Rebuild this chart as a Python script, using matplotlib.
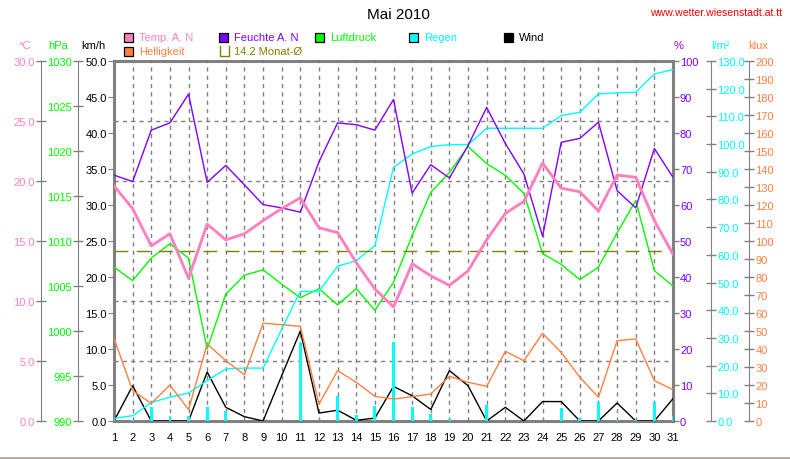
import numpy as np
import matplotlib.pyplot as plt
from matplotlib.patches import Rectangle
from matplotlib.lines import Line2D
from matplotlib.ticker import FixedLocator, StrMethodFormatter

plt.rcParams['font.family'] = ['Liberation Sans', 'DejaVu Sans']

# Werte Mai 2010
days = np.arange(1, 32)
temp = [19.6, 17.7, 14.6, 15.6, 11.9, 16.4, 15.1, 15.6, 16.7, 17.7, 18.6, 16.1, 15.7, 13.2, 11.0, 9.5,
        13.1, 12.1, 11.3, 12.5, 15.1, 17.3, 18.3, 21.5, 19.4, 19.1, 17.5, 20.5, 20.3, 16.7, 13.9]
feuchte = [68.3, 66.5, 80.8, 82.8, 90.8, 66.3, 71.0, 65.6, 60.1, 59.2, 58.0, 72.0, 82.8, 82.3, 80.8, 89.3,
           63.3, 71.2, 67.5, 76.5, 87.1, 77.1, 68.6, 51.3, 77.4, 78.5, 83.0, 64.0, 59.2, 75.7, 67.7]
luftdruck = [1007.1, 1005.6, 1008.1, 1009.7, 1008.1, 998.0, 1004.1, 1006.2, 1006.8, 1005.2, 1003.7,
             1004.7, 1002.9, 1004.7, 1002.3, 1005.4, 1010.6, 1015.4, 1017.6, 1020.5, 1018.6, 1017.3,
             1015.3, 1008.6, 1007.4, 1005.7, 1007.1, 1010.9, 1014.5, 1006.7, 1005.0]
regen_summe = [1.0, 1.9, 6.7, 8.6, 10.1, 14.6, 18.8, 19.1, 19.1, 33.2, 46.8, 46.8, 55.9, 57.9, 63.3, 91.6,
               96.4, 99.1, 99.8, 99.8, 105.7, 105.7, 105.7, 105.7, 110.3, 111.5, 118.1, 118.5, 118.7,
               125.3, 126.9]
regen_tag = [0.9, 0.5, 5.2, 1.9, 1.7, 5.2, 3.7, 0, 0, 0, 28.2, 0, 9.2, 2.3, 5.5, 28.6,
             4.9, 2.5, 0.7, 0, 5.9, 0, 0, 0, 4.7, 1.1, 6.7, 0.5, 0.3, 6.7, 1.9]
wind = [0, 4.9, 0, 0, 0, 6.8, 1.9, 0.6, 0, 6.3, 12.5, 1.1, 1.5, 0.1, 0.4, 4.8,
        3.5, 1.6, 7.0, 4.9, 0, 1.9, 0, 2.7, 2.7, 0, 0, 2.5, 0, 0, 3.1]
helligkeit = [45.9, 16.9, 9.8, 20.0, 6.3, 42.8, 33.5, 25.7, 54.3, 53.5, 52.6, 9.4, 28.0, 21.5, 13.7, 12.2,
              13.5, 15.0, 24.8, 21.5, 19.3, 38.7, 33.5, 48.7, 38.1, 24.3, 13.2, 44.6, 45.6, 22.4, 17.4]
monat_mittel = 14.2

PINK = '#FF80C0'
LILA = '#8000FF'
GRUEN = '#00FF00'
CYAN = '#00FFFF'
ORANGE = '#FF8040'
OLIV = '#808000'
GRAU = '#808080'

W, H = 790, 460
x0, x1, y0, y1 = 114, 673, 62, 422

fig = plt.figure(figsize=(W / 100, H / 100), dpi=100)
ax = fig.add_axes([x0 / W, 1 - y1 / H, (x1 - x0) / W, (y1 - y0) / H])


def fx(px):
    return px / W


def fy(py):
    return 1 - py / H


def extra_axis(side, xpix, lo, hi, step, fmt, color, direction='inout', spine=True):
    a = ax.twinx()
    for s in a.spines.values():
        s.set_visible(False)
    a.spines[side].set_visible(spine)
    a.spines[side].set_position(('axes', (xpix - x0) / (x1 - x0)))
    a.spines[side].set_color(GRAU)
    a.yaxis.set_ticks_position(side)
    a.yaxis.set_label_position(side)
    a.set_ylim(lo, hi)
    a.set_yticks(np.arange(lo, hi + step / 2, step))
    a.yaxis.set_major_formatter(StrMethodFormatter(fmt))
    a.tick_params(axis='y', color=GRAU, labelcolor=color, direction=direction,
                  length=7 if direction == 'inout' else 4, width=1, pad=1, labelsize=8)
    return a


# Hauptachse: km/h
ax.set_xlim(1, 31)
ax.set_ylim(0, 50)
ax.set_xticks(days)
ax.set_yticks(np.arange(0, 50.1, 5))
ax.yaxis.set_major_formatter(StrMethodFormatter('{x:.1f}'))
ax.yaxis.set_minor_locator(FixedLocator(np.linspace(0, 50, 7)))
ax.tick_params(axis='x', length=0, pad=8, labelsize=8)
ax.tick_params(axis='y', which='major', color=GRAU, length=4, pad=1, labelsize=8)
ax.tick_params(axis='y', which='minor', length=0)
ax.grid(axis='x', which='major', color=GRAU, ls=(0, (3, 3)), lw=1)
ax.grid(axis='y', which='minor', color=GRAU, ls=(0, (3, 3)), lw=1)
for s in ax.spines.values():
    s.set_color(GRAU)
    s.set_linewidth(2.2)

ax_hpa = extra_axis('left', 78, 990, 1030, 5, '{x:.0f}', GRUEN)
ax_reg = extra_axis('right', 711, 0, 130, 10, '{x:.1f}', CYAN)
ax_lux = extra_axis('right', 749, 0, 200, 10, '{x:.0f}', ORANGE)
ax_pro = extra_axis('right', 673, 0, 100, 10, '{x:.0f}', LILA, direction='out', spine=False)
ax_tmp = extra_axis('left', 41, 0, 30, 5, '{x:.1f}', PINK)

# Daten
ax_reg.bar(days, regen_tag, width=0.15, color=CYAN, zorder=2)
ax_reg.plot(days, regen_summe, color=CYAN, lw=1)
ax.plot(days, wind, color='black', lw=1, zorder=3)
ax_lux.plot(days, helligkeit, color=ORANGE, lw=1)
ax_hpa.plot(days, luftdruck, color=GRUEN, lw=1)
ax_pro.plot(days, feuchte, color=LILA, lw=1)
ax_tmp.axhline(monat_mittel, color=OLIV, lw=1, ls=(0, (10, 6)))
ax_tmp.plot(days, temp, color=PINK, lw=2.1)

# Titel
fig.text(fx(398), fy(15), 'Mai 2010', ha='center', va='center', fontsize=11)
fig.text(fx(782), fy(13), 'www.wetter.wiesenstadt.at.tt', ha='right', va='center',
         fontsize=7.6, color='red')

# Einheiten
for xp, txt, col in [(25, '°C', PINK), (58, 'hPa', GRUEN), (93, 'km/h', 'black'),
                     (679, '%', LILA), (720, 'l/m²', CYAN), (758, 'klux', ORANGE)]:
    fig.text(fx(xp), fy(46), txt, ha='center', va='center', fontsize=8, color=col)

# Legende
legende = [(124, 38, 'Temp. A. N', PINK), (219, 38, 'Feuchte A. N', LILA),
           (315, 38, 'Luftdruck', GRUEN), (409, 38, 'Regen', CYAN),
           (504, 38, 'Wind', 'black'), (124, 52, 'Helligkeit', ORANGE)]
for xp, yp, txt, col in legende:
    fig.add_artist(Rectangle((fx(xp), fy(yp + 4.5)), 9 / W, 9 / H, transform=fig.transFigure,
                             facecolor=col, edgecolor='black', lw=0.9))
    fig.text(fx(xp + 15), fy(yp), txt, ha='left', va='center', fontsize=8, color=col)
fig.add_artist(Line2D([fx(220), fx(220), fx(229), fx(229)], [fy(47), fy(57), fy(57), fy(47)],
                      transform=fig.transFigure, color=OLIV, lw=1))
fig.text(fx(234), fy(52), '14.2 Monat-Ø', ha='left', va='center', fontsize=8, color=OLIV)

# Statusleiste unten
fig.add_artist(Line2D([0, 1], [fy(458.5), fy(458.5)], transform=fig.transFigure,
                      color='#ACA899', lw=2))

fig.savefig('out.png', dpi=100)
